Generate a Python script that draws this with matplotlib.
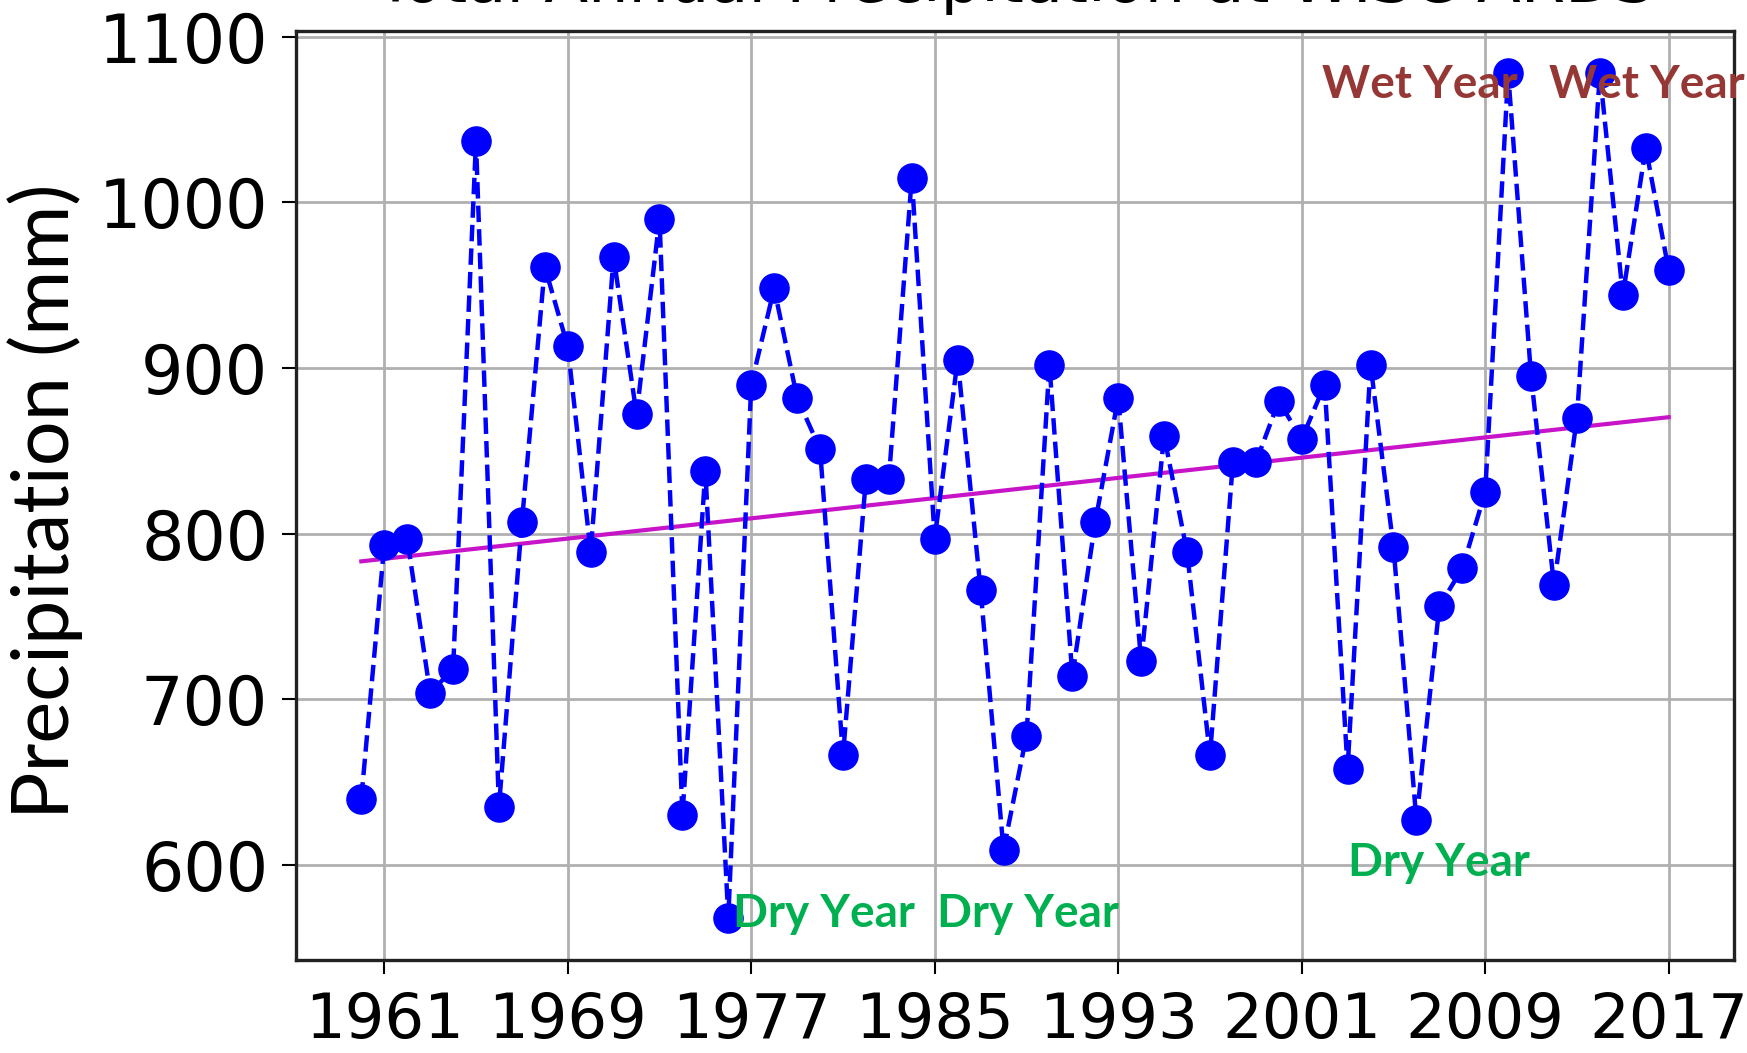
import numpy as np
import matplotlib
matplotlib.use("Agg")
from matplotlib import pyplot as plt

years = list(range(1960, 2018))
precip = [640, 793, 797, 704, 718, 1037, 635, 807, 961, 913,
          789, 967, 872, 990, 630, 838, 568, 890, 948, 882,
          851, 666, 833, 833, 1015, 797, 905, 766, 609, 678,
          902, 714, 807, 882, 723, 859, 789, 666, 843, 843,
          880, 857, 890, 658, 902, 792, 627, 756, 779, 825,
          1078, 895, 769, 870, 1078, 944, 1033, 959]
xticks = [1961, 1969, 1977, 1985, 1993, 2001, 2009, 2017]
yticks = [600, 700, 800, 900, 1000, 1100]

wet_labels = [(2001.9, 1071), (2011.8, 1071)]
dry_labels = [(1976.2, 570), (1985.1, 570), (2003.0, 601)]

fig = plt.figure(figsize=(17.47, 10.53), dpi=100)
ax = fig.add_axes([0.1694, 0.0883, 0.8232, 0.8823])

ax.plot(years, precip, "o--", color="blue", lw=3.2, markersize=21, zorder=3)

# linear trend
coef = np.polyfit(years, precip, 1)
ax.plot([years[0], years[-1]], np.polyval(coef, [years[0], years[-1]]),
        color="#c814c8", lw=3.0, zorder=2)

ax.set_xticks(xticks)
ax.set_yticks(yticks)
ax.tick_params(axis="x", labelsize=45, length=10, width=1.5, pad=12)
ax.tick_params(axis="y", labelsize=48, length=10, width=1.5, pad=10)
ax.grid(True, color="#b0b0b0", lw=2)
for s in ax.spines.values():
    s.set_linewidth(2.4)
    s.set_color("#222222")

for x, y in wet_labels:
    ax.text(x, y, "Wet Year", color="#953735", fontsize=33, fontweight="bold",
            family="Lato", ha="left", va="center", clip_on=False, zorder=5)
for x, y in dry_labels:
    ax.text(x, y, "Dry Year", color="#00b050", fontsize=33, fontweight="bold",
            family="Lato", ha="left", va="center", clip_on=False, zorder=5)

fig.text(0.026, 0.524, "Precipitation (mm)", rotation=90, fontsize=57,
         family="Lato", ha="center", va="center")
fig.text(0.581, 0.9985, "Total Annual Precipitation at WISC ARDS", fontsize=46,
         ha="center", va="baseline")

fig.savefig("out.png", dpi=100)
